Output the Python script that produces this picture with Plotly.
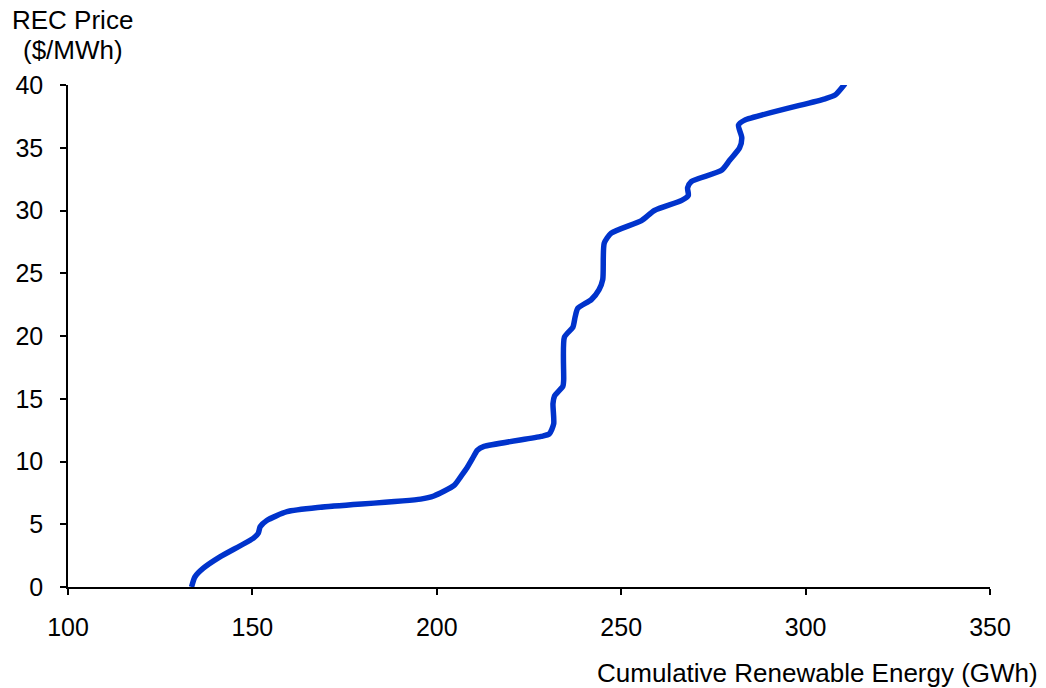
import plotly.graph_objects as go

# Cumulative renewable energy (GWh) vs REC price ($/MWh)
energy_gwh = [133.5, 134.4, 136.7, 141.2, 150.3, 151.6, 152.1, 153.9, 159.4, 168.4,
              195.6, 199.2, 204.7, 206.5, 208.2, 209.7, 211.0, 212.8, 228.3, 230.5,
              231.7, 231.5, 231.9, 234.2, 234.4, 234.6, 236.9, 237.5, 238.2, 241.9,
              244.0, 245.0, 245.4, 247.3, 255.5, 259.0, 266.4, 268.2, 268.0, 269.0,
              277.2, 279.4, 282.1, 282.7, 281.8, 283.5, 305.3, 308.0, 310.7]
rec_price = [0.0, 0.8, 1.5, 2.4, 3.9, 4.3, 4.8, 5.3, 6.0, 6.35,
             7.0, 7.25, 8.1, 8.8, 9.5, 10.25, 10.9, 11.2, 12.0, 12.2,
             13.0, 14.6, 15.2, 16.0, 16.5, 19.9, 20.7, 21.5, 22.2, 22.9,
             23.7, 24.5, 27.4, 28.2, 29.2, 30.0, 30.8, 31.2, 31.8, 32.3,
             33.2, 34.0, 35.0, 35.8, 36.8, 37.2, 38.9, 39.2, 40.1]

x_ticks = [100, 150, 200, 250, 300, 350]
y_ticks = [0, 5, 10, 15, 20, 25, 30, 35, 40]

FONT = "Liberation Sans, Arial, sans-serif"

fig = go.Figure()
fig.add_trace(go.Scatter(
    x=energy_gwh, y=rec_price, mode="lines",
    line=dict(color="#0033CC", width=5.5, shape="spline", smoothing=0.6),
    showlegend=False, hoverinfo="x+y",
))

fig.update_layout(
    width=1046, height=688,
    margin=dict(l=68, r=56, t=85, b=101),
    paper_bgcolor="white", plot_bgcolor="white",
    font=dict(family=FONT, size=25, color="black"),
    xaxis=dict(range=[100, 350], tickvals=x_ticks, showgrid=False, zeroline=False,
               showline=True, linecolor="black", linewidth=1.5,
               ticks="outside", ticklen=6, tickcolor="black", tickwidth=1.5,
               ticklabelstandoff=11, tickfont=dict(size=25)),
    yaxis=dict(range=[0, 40], tickvals=y_ticks, showgrid=False, zeroline=False,
               showline=True, linecolor="black", linewidth=1.5,
               ticks="outside", ticklen=6, tickcolor="black", tickwidth=1.5,
               ticklabelstandoff=12, tickfont=dict(size=25)),
    annotations=[
        dict(text="REC Price", xref="paper", yref="paper", x=-0.063, y=1.13,
             xanchor="left", yanchor="middle", showarrow=False, font=dict(size=26)),
        dict(text="($/MWh)", xref="paper", yref="paper", x=-0.051, y=1.07,
             xanchor="left", yanchor="middle", showarrow=False, font=dict(size=26)),
        dict(text="Cumulative Renewable Energy (GWh)", xref="paper", yref="paper",
             x=1.054, y=-0.171, xanchor="right", yanchor="middle", showarrow=False,
             font=dict(size=26)),
    ],
)

fig.write_html("out.html")
